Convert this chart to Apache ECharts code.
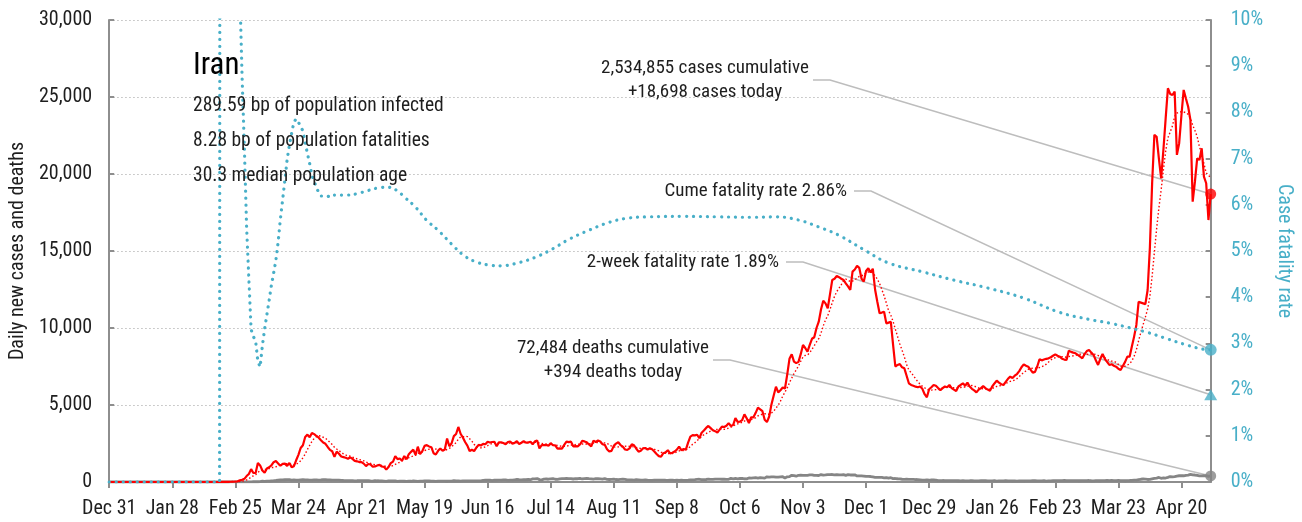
<!DOCTYPE html>
<html>
<head>
<meta charset="utf-8">
<script src="https://cdn.jsdelivr.net/npm/echarts@6/dist/echarts.min.js"></script>
<style>
  html, body { margin: 0; padding: 0; background: #ffffff; }
  #chart { width: 1302px; height: 522px; }
</style>
</head>
<body>
<div id="chart"></div>
<script>
// Iran: daily new cases, deaths and case fatality rate, Dec 31 2019 - May 3 2021.
// Day index 0 = Dec 31 2019.
const START = Date.UTC(2019, 11, 31);
const MONTHS = ['Jan','Feb','Mar','Apr','May','Jun','Jul','Aug','Sep','Oct','Nov','Dec'];

// Daily new cases, by month
const casesQuiet = [0,0,0,0,0,0,0,0,0,0, 0,0,0,0,0,0,0,0,0,0, 0,0,0,0,0,0,0,0,0,0,
                    0,0,0,0,0,0,0,0,0,0, 0,0,0,0,0,0,0,0,0,0]; // Dec 31 - Feb 18
const casesFeb20 = [2,3,13,10,15,18,34,44,106,143,205];
const casesMar20 = [385,523,835,586,591,1234,1076,743,595,881,958,1075,1289,1365,1209,1053,1178,1192,1046,1237,966,1028,1411,1762,2206,2389,2926,3076,2901,3186,3110];
const casesApr20 = [2988,2875,2715,2560,2483,2274,2089,1997,1634,1972,1837,1657,1617,1574,1512,1606,1499,1374,1343,1294,1297,1194,1030,1168,1134,991,1012,1073,1112,1006];
const casesMay20 = [983,802,976,1223,1323,1680,1485,1529,1383,1683,1481,1808,1958,2102,1757,2294,1806,2000,2346,2392,2311,2258,1869,1787,2023,2180,2033,2115,2819,2318,2516];
const casesJun20 = [2979,3117,3574,3134,2886,2596,2364,2011,2095,2011,2238,2410,2369,2472,2449,2612,2563,2596,2615,2322,2573,2573,2531,2445,2595,2628,2489,2536,2657,2457];
const casesJul20 = [2549,2652,2560,2560,2613,2449,2637,2691,2186,2397,2397,2414,2349,2521,2388,2379,2166,2186,2166,2414,2625,2586,2621,2316,2333,2316,2434,2667,2636,2574,2434];
const casesAug20 = [2316,2685,2598,2697,2634,2450,2414,2125,1980,2020,2345,2495,2580,2400,2300,2112,2085,2184,2444,2385,2160,1970,2030,2186,2207,2100,2192,2125,1985,1820,1682];
const casesSep20 = [1642,1870,1922,2063,1858,1900,1980,2100,2300,2064,2142,2100,2560,2950,3040,3030,3070,2840,3200,3340,3510,3640,3500,3360,3300,3205,3400,3600,3570,3650];
const casesOct20 = [3825,3640,3700,4151,3902,3920,4019,4392,4142,3822,4206,4200,4490,4830,4721,4600,4038,3890,4251,5039,5616,6191,5814,5960,6134,6070,6968,8000,8293,7820,7719];
const casesNov20 = [7800,8300,8900,8700,8460,8900,9300,9400,10000,10410,11200,11770,11600,11280,12200,13120,13200,13380,13300,13200,13120,12900,12700,12470,13660,13800,14030,13900,13200,13010];
const casesDec20 = [13700,13880,13600,13850,12500,11700,10960,11000,11060,10300,10350,10400,8900,7500,7600,7660,7450,7380,6900,6410,6300,6250,6190,6150,6200,6050,5700,5500,6020,6150,6300];
const casesJan21 = [6250,6100,5970,6100,6200,6150,6300,6100,6000,5910,6200,6300,6410,6250,6450,6200,6050,5950,5820,6000,6100,6230,6100,6000,5930,6200,6400,6580,6450,6350,6300];
const casesFeb21 = [6500,6700,6840,6750,6900,7010,7200,7450,7640,7550,7490,7300,7100,7150,7500,7970,7900,7950,8000,8030,8100,8200,8290,8200,8140,8000,7950,7920];
const casesMar21 = [8530,8450,8400,8360,8250,8150,8030,8300,8500,8570,8400,8250,7900,7600,8000,8310,8000,7800,7600,7650,7550,7490,7350,7270,7530,7800,8140,8140,8800,9440,10200];
const casesApr21 = [11700,11650,11600,11550,12470,15200,19400,22540,22420,21000,19720,21560,23600,25570,25200,25130,25350,21240,22000,23800,25460,24900,24370,23510,18200,19500,21020,20910,21670,19830];
const casesMay21 = [19400,17010,18698];

// Daily deaths, by month
const deathsQuiet = [0,0,0,0,0,0,0,0,0,0, 0,0,0,0,0,0,0,0,0,0, 0,0,0,0,0,0,0,0,0,0,
                     0,0,0,0,0,0,0,0,0,0, 0,0,0,0,0,0,0,0,0,0];
const deathsFeb20 = [2,0,2,1,3,4,4,3,7,8,9];
const deathsMar20 = [11,12,11,15,15,17,21,49,43,54,63,75,85,97,113,129,135,147,149,149,123,129,127,122,143,157,144,139,123,117,141];
const deathsApr20 = [138,124,134,158,151,136,133,121,117,122,125,111,98,94,92,89,87,73,80,88,94,88,90,93,76,60,96,80,71,71];
const deathsMay20 = [63,47,74,68,78,68,45,55,51,48,45,50,48,71,54,35,51,62,69,65,66,56,51,34,58,57,63,56,50,59,57];
const deathsJun20 = [81,64,70,59,70,75,72,72,74,71,75,78,71,107,113,115,120,87,116,115,119,121,133,134,109,125,125,144,162,147];
const deathsJul20 = [141,148,147,163,148,200,200,221,153,142,188,194,179,203,221,179,170,206,215,217,229,219,221,195,216,212,235,196,220,235,216];
const deathsAug20 = [208,193,215,212,197,180,215,174,163,176,189,161,156,174,187,165,134,138,134,119,154,143,121,116,139,119,109,104,117,126,126];
const deathsSep20 = [125,127,116,107,123,120,112,114,105,118,103,107,121,136,144,148,164,178,154,152,162,184,175,167,186,193,183,178,179,172];
const deathsOct20 = [173,235,210,228,202,227,239,211,206,264,251,272,279,254,279,269,253,337,322,337,335,322,322,337,346,263,335,346,434,413,376];
const deathsNov20 = [434,440,431,428,435,458,459,424,433,422,482,453,462,482,480,486,462,479,457,469,475,431,475,456,455,469,396,400,394,387];
const deathsDec20 = [359,361,356,330,300,305,304,296,270,287,247,277,221,226,211,202,179,175,177,174,176,175,161,152,141,127,122,134,113,136,131];
const deathsJan21 = [123,87,84,96,93,90,85,87,85,84,82,76,88,79,76,80,86,73,74,71,80,81,90,73,76,70,83,59,78,78,71];
const deathsFeb21 = [80,69,72,64,65,61,71,65,64,75,73,74,81,85,73,72,70,81,62,78,76,83,88,86,85,93,96,94];
const deathsMar21 = [88,89,89,94,93,81,88,85,90,96,82,79,87,88,81,94,88,100,93,98,89,94,96,91,93,80,94,97,101,116,125];
const deathsApr21 = [152,178,195,193,163,169,202,233,254,296,241,263,258,301,357,329,355,383,406,405,405,436,452,496,457,453,425,392,398,410];
const deathsMay21 = [391,367,394];

// Cumulative case fatality rate (%), [day, rate]
const cfrEarly = [[0,0],[49,0],[50,100],[51,40],[52,22.2],[53,17.9],[54,18.6],[55,19.7],[56,16.8],[57,13.7],[58,10.6],
  [59,8.76],[60,7.25],[61,5.52],[62,4.40],[63,3.30],[64,3.15],[65,3.05],[66,2.61],[67,2.49],[68,2.95],[69,3.31],
  [70,3.62],[71,3.93],[72,4.26],[73,4.52],[74,4.80],[75,5.19],[76,5.69],[77,6.11],[78,6.54],[79,6.98],[80,7.29],
  [81,7.55],[82,7.79],[83,7.86],[84,7.79],[85,7.69],[86,7.60],[87,7.35],[88,7.11],[89,6.89],[90,6.64],[91,6.50],
  [92,6.38],[93,6.26],[94,6.19],[95,6.19],[96,6.19],[97,6.18],[98,6.19],[99,6.18],[100,6.21]];
const cfrLate = [[100,6.21],[105,6.21],[110,6.24],[115,6.31],[120,6.37],[124,6.38],[128,6.30],[131,6.17],[136,5.95],
  [141,5.66],[146,5.45],[152,5.15],[157,4.92],[162,4.78],[168,4.70],[174,4.68],[182,4.75],[190,4.88],[197,5.05],
  [204,5.25],[213,5.45],[222,5.62],[230,5.71],[240,5.74],[255,5.75],[270,5.74],[285,5.73],[296,5.74],[306,5.67],
  [315,5.52],[324,5.34],[335,5.03],[346,4.74],[361,4.55],[375,4.37],[390,4.20],[406,3.98],[422,3.67],[435,3.52],
  [445,3.43],[460,3.25],[469,3.11],[478,2.97],[485,2.88],[489,2.86]];

// Headline figures
const country = 'Iran';
const infoLines = ['289.59 bp of population infected', '8.28 bp of population fatalities', '30.3 median population age'];
const cumulativeCases = 2534855;
const cumulativeDeaths = 72484;
const cumeFatalityRate = 2.86;
const twoWeekFatalityRate = 1.89;

// Axis ticks every 28 days
const xTickDays = [0,28,56,84,112,140,168,196,224,252,280,308,336,364,392,420,448,476];

const cases = [].concat(casesQuiet, casesFeb20, casesMar20, casesApr20, casesMay20, casesJun20, casesJul20,
  casesAug20, casesSep20, casesOct20, casesNov20, casesDec20, casesJan21, casesFeb21, casesMar21, casesApr21, casesMay21);
const deaths = [].concat(deathsQuiet, deathsFeb20, deathsMar20, deathsApr20, deathsMay20, deathsJun20, deathsJul20,
  deathsAug20, deathsSep20, deathsOct20, deathsNov20, deathsDec20, deathsJan21, deathsFeb21, deathsMar21, deathsApr21, deathsMay21);
if (cases.length !== 490 || deaths.length !== 490) {
  throw new Error('length mismatch: cases ' + cases.length + ', deaths ' + deaths.length);
}
const lastDay = cases.length - 1;
const casesToday = cases[lastDay];
const deathsToday = deaths[lastDay];

// trailing 7-day mean of daily cases
const casesAvg = cases.map((v, i) => {
  const from = Math.max(0, i - 6);
  let s = 0;
  for (let k = from; k <= i; k++) s += cases[k];
  return [i, s / (i - from + 1)];
});

const FONT = '"Liberation Sans Narrow","Roboto Condensed","DejaVu Sans Condensed",sans-serif';
const TEAL = '#48afc8';
const RED = '#ff0000';
const GREY = '#858585';
const AXIS = '#8e8e8e';
const INK = '#1e1e1e';

const fmt = n => n.toLocaleString('en-US');
const dayLabel = d => {
  const t = new Date(START + d * 86400000);
  return MONTHS[t.getUTCMonth()] + ' ' + t.getUTCDate();
};

const chart = echarts.init(document.getElementById('chart'), null, { renderer: 'canvas' });

chart.setOption({
  animation: false,
  backgroundColor: '#ffffff',
  textStyle: { fontFamily: FONT },
  grid: { left: 106, right: 84, top: 20, bottom: 40, containLabel: false },
  xAxis: {
    type: 'value', min: 0, max: lastDay,
    axisLine: { show: true, lineStyle: { color: AXIS, width: 2 } },
    axisTick: { show: true, length: 6, lineStyle: { color: AXIS, width: 2 }, customValues: xTickDays },
    axisLabel: { customValues: xTickDays, formatter: v => dayLabel(v), fontSize: 20, color: INK, margin: 17, fontFamily: FONT },
    splitLine: { show: false }
  },
  yAxis: [
    {
      type: 'value', min: 0, max: 30000, interval: 5000, position: 'left',
      name: 'Daily new cases and deaths', nameLocation: 'middle', nameGap: 80,
      nameTextStyle: { fontSize: 20, color: INK, fontFamily: FONT },
      axisLine: { show: true, lineStyle: { color: AXIS, width: 2 } },
      axisTick: { show: true, inside: true, length: 5, lineStyle: { color: AXIS, width: 2 } },
      axisLabel: { formatter: v => fmt(v), fontSize: 20, color: INK, margin: 17, fontFamily: FONT },
      splitLine: { show: true, lineStyle: { color: '#bdbdbd', width: 1, type: [1.5, 2.5] } }
    },
    {
      type: 'value', min: 0, max: 10, interval: 1, position: 'right',
      name: 'Case fatality rate', nameLocation: 'middle', nameGap: 58, nameRotate: -90,
      nameTextStyle: { fontSize: 20, color: TEAL, fontFamily: FONT },
      axisLine: { show: true, lineStyle: { color: AXIS, width: 2 } },
      axisTick: { show: true, inside: true, length: 5, lineStyle: { color: AXIS, width: 2 } },
      axisLabel: { formatter: v => v + '%', fontSize: 20, color: TEAL, margin: 20, fontFamily: FONT },
      splitLine: { show: false }
    }
  ],
  series: [
    {
      name: 'Deaths', type: 'line', data: deaths.map((v, i) => [i, v]), yAxisIndex: 0,
      showSymbol: false, symbol: 'none', lineStyle: { color: GREY, width: 2.8 }, z: 2
    },
    {
      name: 'Cases 7-day average', type: 'line', data: casesAvg, yAxisIndex: 0,
      showSymbol: false, symbol: 'none', lineStyle: { color: RED, width: 1.4, type: [1.5, 2.2] }, z: 3
    },
    {
      name: 'Cases', type: 'line', data: cases.map((v, i) => [i, v]), yAxisIndex: 0,
      showSymbol: false, symbol: 'none', lineStyle: { color: RED, width: 2.2 }, z: 4
    },
    {
      name: 'Case fatality rate', type: 'line', data: cfrEarly, yAxisIndex: 1,
      showSymbol: false, symbol: 'none', clip: true,
      lineStyle: { color: TEAL, width: 3.2, type: [0.1, 6.9], cap: 'round' }, z: 5
    },
    {
      name: 'Case fatality rate', type: 'line', data: cfrLate, yAxisIndex: 1, smooth: 0.4,
      showSymbol: false, symbol: 'none', clip: true,
      lineStyle: { color: TEAL, width: 3.2, type: [0.1, 6.9], cap: 'round' }, z: 5
    },
    {
      name: 'Today left', type: 'scatter', yAxisIndex: 0, z: 8,
      data: [
        { value: [lastDay, casesToday], symbol: 'circle', symbolSize: 11, itemStyle: { color: RED } },
        { value: [lastDay, deathsToday], symbol: 'circle', symbolSize: 11, itemStyle: { color: GREY } }
      ]
    },
    {
      name: 'Today right', type: 'scatter', yAxisIndex: 1, z: 8,
      data: [
        { value: [lastDay, cumeFatalityRate], symbol: 'circle', symbolSize: 12, itemStyle: { color: TEAL } },
        { value: [lastDay, twoWeekFatalityRate], symbol: 'triangle', symbolSize: [13, 11], itemStyle: { color: TEAL } }
      ]
    }
  ]
});

// Annotations: text blocks with grey leader lines running to today's markers
const px = (axis, v) => chart.convertToPixel({ xAxisIndex: 0, yAxisIndex: axis }, [lastDay, v]);
const LEAD = '#bdbdbd';
const annotations = [
  { lines: [fmt(cumulativeCases) + ' cases cumulative', '+' + fmt(casesToday) + ' cases today'],
    x: 705, y: 68, align: 'center', lead: [813, 80], target: px(0, casesToday) },
  { lines: ['Cume fatality rate ' + cumeFatalityRate.toFixed(2) + '%'],
    x: 847, y: 191, align: 'right', lead: [854, 191], target: px(1, cumeFatalityRate) },
  { lines: ['2-week fatality rate ' + twoWeekFatalityRate.toFixed(2) + '%'],
    x: 779, y: 262, align: 'right', lead: [786, 262], target: px(1, twoWeekFatalityRate) },
  { lines: [fmt(cumulativeDeaths) + ' deaths cumulative', '+' + fmt(deathsToday) + ' deaths today'],
    x: 613, y: 348, align: 'center', lead: [713, 360], target: px(0, deathsToday) }
];

const graphics = [];
annotations.forEach(a => {
  graphics.push({
    type: 'polyline', z: 1, silent: true,
    shape: { points: [a.lead, [a.lead[0] + 17, a.lead[1]], a.target] },
    style: { stroke: LEAD, lineWidth: 1.6, fill: null }
  });
  a.lines.forEach((t, k) => {
    graphics.push({
      type: 'text', z: 10, silent: true,
      style: { text: t, x: a.x, y: a.y + k * 24, align: a.align, verticalAlign: 'middle',
               fontSize: 19, fontFamily: FONT, fill: INK }
    });
  });
});

// Country block, top left
graphics.push({
  type: 'text', z: 10, silent: true,
  style: { text: country, x: 193, y: 66, align: 'left', verticalAlign: 'middle', fontSize: 31, fontFamily: FONT, fill: '#000' }
});
infoLines.forEach((t, k) => {
  graphics.push({
    type: 'text', z: 10, silent: true,
    style: { text: t, x: 193, y: 106 + k * 35, align: 'left', verticalAlign: 'middle', fontSize: 19.5, fontFamily: FONT, fill: INK }
  });
});

chart.setOption({ graphic: graphics });
</script>
</body>
</html>
